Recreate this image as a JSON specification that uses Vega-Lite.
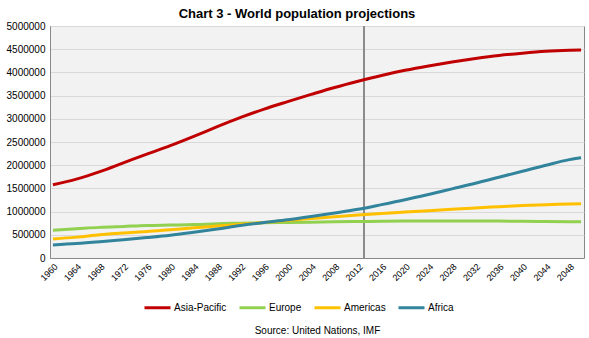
{
  "$schema": "https://vega.github.io/schema/vega-lite/v6.json",
  "autosize": {"type": "none"},
  "padding": {"left": 50, "top": 26, "right": 5, "bottom": 80},
  "width": 534,
  "height": 232,
  "background": "white",
  "title": {"text": "Chart 3 - World population projections", "fontSize": 13, "font": "Liberation Sans", "fontWeight": "bold", "color": "#000000", "anchor": "middle", "offset": 0, "dx": -20},
  "config": {
    "view": {"fill": "#f2f2f2", "stroke": "#898989", "strokeWidth": 1},
    "font": "Liberation Sans"
  },
  "data": {"values": [
    {"year": 1960, "Asia-Pacific": 1580000, "Europe": 600000, "Americas": 410000, "Africa": 280000},
    {"year": 1964, "Asia-Pacific": 1700000, "Europe": 630000, "Americas": 450000, "Africa": 310000},
    {"year": 1968, "Asia-Pacific": 1860000, "Europe": 660000, "Americas": 500000, "Africa": 350000},
    {"year": 1972, "Asia-Pacific": 2050000, "Europe": 680000, "Americas": 540000, "Africa": 395000},
    {"year": 1976, "Asia-Pacific": 2240000, "Europe": 700000, "Americas": 570000, "Africa": 440000},
    {"year": 1980, "Asia-Pacific": 2420000, "Europe": 710000, "Americas": 610000, "Africa": 490000},
    {"year": 1984, "Asia-Pacific": 2620000, "Europe": 720000, "Americas": 650000, "Africa": 555000},
    {"year": 1988, "Asia-Pacific": 2830000, "Europe": 740000, "Americas": 690000, "Africa": 625000},
    {"year": 1992, "Asia-Pacific": 3030000, "Europe": 750000, "Americas": 725000, "Africa": 700000},
    {"year": 1996, "Asia-Pacific": 3210000, "Europe": 760000, "Americas": 765000, "Africa": 765000},
    {"year": 2000, "Asia-Pacific": 3370000, "Europe": 765000, "Americas": 810000, "Africa": 825000},
    {"year": 2004, "Asia-Pacific": 3525000, "Europe": 772000, "Americas": 850000, "Africa": 895000},
    {"year": 2008, "Asia-Pacific": 3675000, "Europe": 780000, "Americas": 890000, "Africa": 970000},
    {"year": 2012, "Asia-Pacific": 3810000, "Europe": 786000, "Americas": 925000, "Africa": 1050000},
    {"year": 2016, "Asia-Pacific": 3935000, "Europe": 793000, "Americas": 960000, "Africa": 1150000},
    {"year": 2020, "Asia-Pacific": 4045000, "Europe": 798000, "Americas": 990000, "Africa": 1255000},
    {"year": 2024, "Asia-Pacific": 4140000, "Europe": 800000, "Americas": 1020000, "Africa": 1370000},
    {"year": 2028, "Asia-Pacific": 4225000, "Europe": 800000, "Americas": 1050000, "Africa": 1490000},
    {"year": 2032, "Asia-Pacific": 4300000, "Europe": 799000, "Americas": 1080000, "Africa": 1610000},
    {"year": 2036, "Asia-Pacific": 4365000, "Europe": 796000, "Americas": 1105000, "Africa": 1740000},
    {"year": 2040, "Asia-Pacific": 4415000, "Europe": 792000, "Americas": 1130000, "Africa": 1870000},
    {"year": 2044, "Asia-Pacific": 4455000, "Europe": 787000, "Americas": 1150000, "Africa": 2000000},
    {"year": 2048, "Asia-Pacific": 4478000, "Europe": 782000, "Americas": 1163000, "Africa": 2120000},
    {"year": 2050, "Asia-Pacific": 4485000, "Europe": 780000, "Americas": 1170000, "Africa": 2160000}
  ]},
  "layer": [
    {
      "mark": {"type": "rule", "color": "#8c8c8c", "strokeWidth": 1},
      "encoding": {
        "x": {
          "datum": 2013, "type": "quantitative",
          "scale": {"domain": [1959.5, 2050.5], "nice": false, "zero": false},
          "axis": {
            "values": [1960,1964,1968,1972,1976,1980,1984,1988,1992,1996,2000,2004,2008,2012,2016,2020,2024,2028,2032,2036,2040,2044,2048],
            "format": "d", "labelAngle": -45, "labelFontSize": 9, "labelColor": "#000000",
            "grid": false, "ticks": false, "domainColor": "#898989", "labelPadding": 4,
            "title": "Source: United Nations, IMF", "titleFontSize": 10, "titleFontWeight": "normal",
            "titleColor": "#000000", "titlePadding": 43, "labelOverlap": false
          }
        }
      }
    },
    {
      "transform": [{"fold": ["Asia-Pacific", "Europe", "Americas", "Africa"], "as": ["region", "value"]}],
      "mark": {"type": "line", "strokeWidth": 3, "interpolate": "monotone"},
      "encoding": {
        "x": {
          "field": "year", "type": "quantitative",
          "scale": {"domain": [1959.5, 2050.5], "nice": false, "zero": false},
          "axis": {
            "values": [1960,1964,1968,1972,1976,1980,1984,1988,1992,1996,2000,2004,2008,2012,2016,2020,2024,2028,2032,2036,2040,2044,2048],
            "format": "d", "labelAngle": -45, "labelFontSize": 9, "labelColor": "#000000",
            "grid": false, "ticks": false, "domainColor": "#898989", "labelPadding": 4,
            "title": "Source: United Nations, IMF", "titleFontSize": 10, "titleFontWeight": "normal",
            "titleColor": "#000000", "titlePadding": 43, "labelOverlap": false
          }
        },
        "y": {
          "field": "value", "type": "quantitative",
          "scale": {"domain": [0, 5000000], "nice": false},
          "axis": {
            "values": [0,500000,1000000,1500000,2000000,2500000,3000000,3500000,4000000,4500000,5000000],
            "format": "d", "labelFontSize": 10, "labelColor": "#000000", "title": null,
            "gridColor": "#d9d9d9", "ticks": false, "domainColor": "#898989", "labelPadding": 5
          }
        },
        "color": {
          "field": "region", "type": "nominal",
          "scale": {"domain": ["Asia-Pacific", "Europe", "Americas", "Africa"], "range": ["#c00000", "#92d050", "#ffc000", "#31849b"]},
          "legend": {
            "orient": "none", "legendX": 93, "legendY": 267, "direction": "horizontal", "title": null,
            "symbolType": "stroke", "symbolSize": 676, "symbolStrokeWidth": 3,
            "labelFontSize": 10, "labelColor": "#000000", "columnPadding": 6, "labelOffset": 2
          }
        }
      }
    }
  ]
}
